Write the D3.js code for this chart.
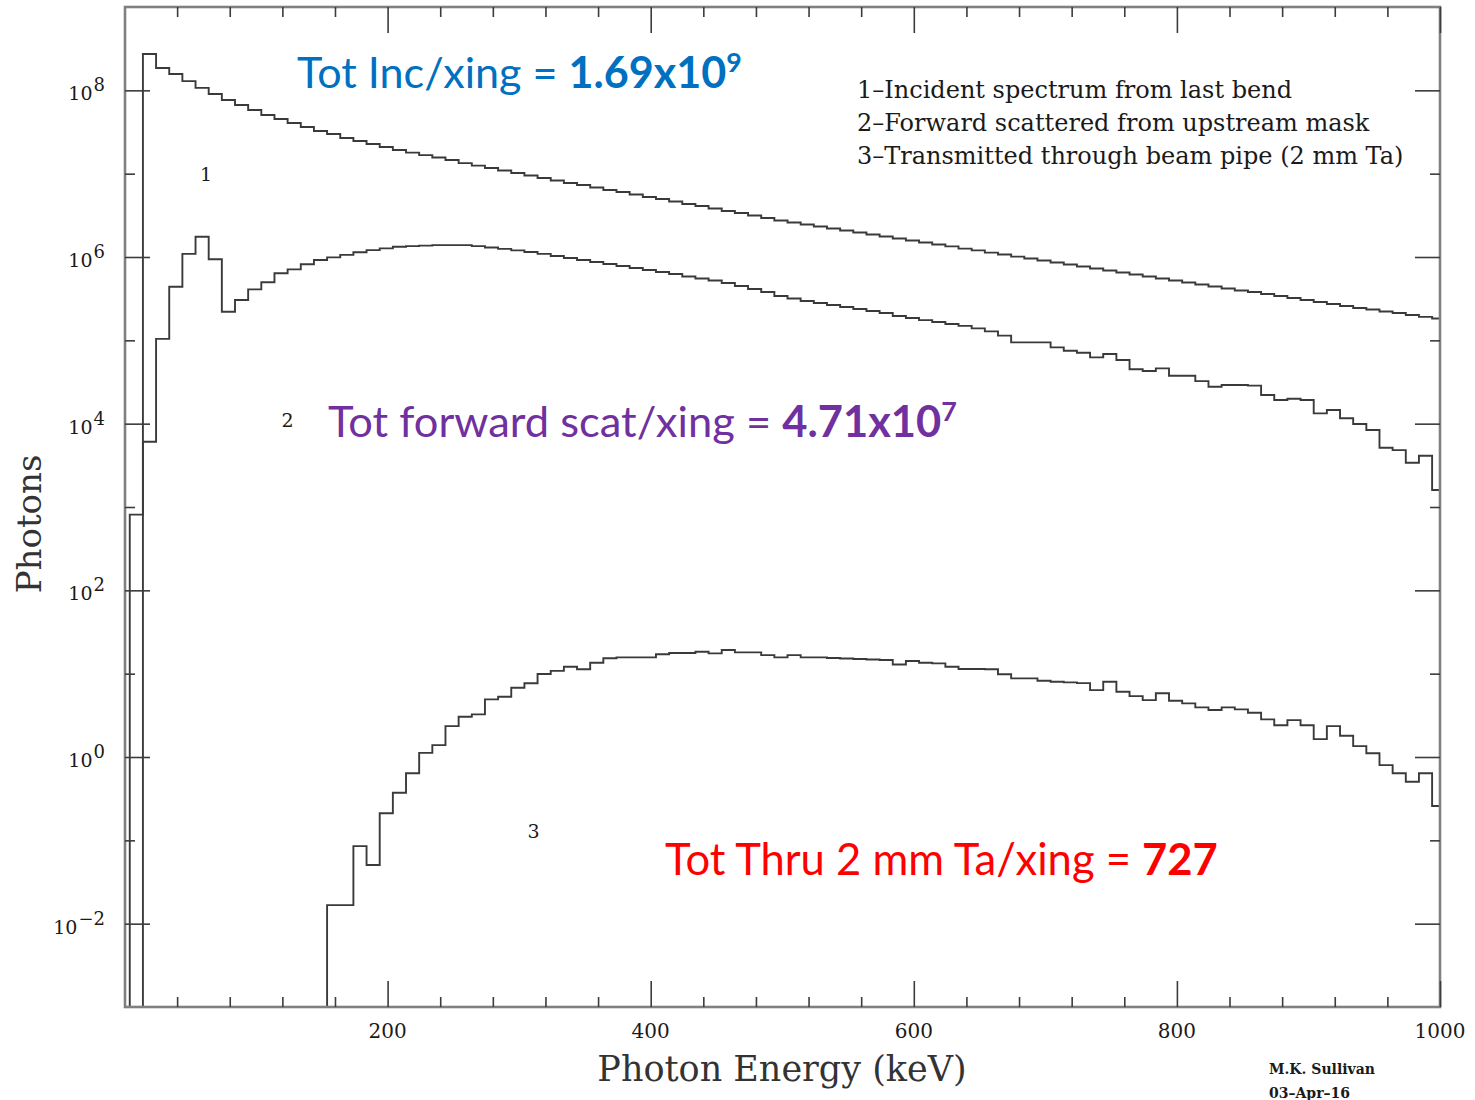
<!DOCTYPE html>
<html>
<head>
<meta charset="utf-8">
<script src="https://cdn.jsdelivr.net/npm/d3@7"></script>
<style>
  body { margin: 0; background: #fff; }
  svg { display: block; }
</style>
</head>
<body>
<svg id="chart" width="1475" height="1100"></svg>
<script>
// Photon spectra per crossing, 10 keV bins starting at 4 keV (last bin cut at 1000 keV)
const binStart = 4;
const binWidth = 10;

// 1 - incident spectrum from last bend
const incident = [
  0, 2.73e8, 1.85e8, 1.57e8, 1.29e8, 1.07e8, 9.04e7, 7.66e7, 6.67e7, 5.81e7,
  5.06e7, 4.53e7, 4.06e7, 3.63e7, 3.25e7, 2.99e7, 2.68e7, 2.47e7, 2.27e7, 2.09e7,
  1.92e7, 1.79e7, 1.67e7, 1.56e7, 1.46e7, 1.34e7, 1.25e7, 1.17e7, 1.09e7, 1.02e7,
  9.51e6, 8.87e6, 8.28e6, 7.73e6, 7.31e6, 6.82e6, 6.37e6, 6.03e6, 5.62e6, 5.25e6,
  4.97e6, 4.63e6, 4.33e6, 4.09e6, 3.82e6, 3.56e6, 3.37e6, 3.15e6, 2.94e6, 2.74e6,
  2.59e6, 2.45e6, 2.32e6, 2.20e6, 2.08e6, 1.97e6, 1.86e6, 1.76e6, 1.67e6, 1.58e6,
  1.49e6, 1.41e6, 1.34e6, 1.26e6, 1.20e6, 1.13e6, 1.07e6, 1.01e6, 9.59e5, 9.08e5,
  8.59e5, 8.13e5, 7.69e5, 7.28e5, 6.89e5, 6.52e5, 6.17e5, 5.83e5, 5.52e5, 5.22e5,
  4.94e5, 4.68e5, 4.43e5, 4.19e5, 3.96e5, 3.80e5, 3.60e5, 3.40e5, 3.22e5, 3.05e5,
  2.88e5, 2.73e5, 2.58e5, 2.44e5, 2.34e5, 2.22e5, 2.13e5, 2.01e5, 1.91e5, 1.83e5
];

// 2 - forward scattered from upstream mask
const forward = [
  8.09e2, 6.07e3, 1.04e5, 4.40e5, 1.09e6, 1.75e6, 9.38e5, 2.20e5, 3.05e5, 4.09e5,
  4.97e5, 6.37e5, 7.11e5, 8.17e5, 9.20e5, 9.91e5, 1.06e6, 1.14e6, 1.21e6, 1.27e6,
  1.33e6, 1.35e6, 1.37e6, 1.39e6, 1.39e6, 1.39e6, 1.35e6, 1.30e6, 1.25e6, 1.20e6,
  1.15e6, 1.09e6, 1.03e6, 9.73e5, 9.20e5, 8.71e5, 8.24e5, 7.80e5, 7.38e5, 6.98e5,
  6.61e5, 6.25e5, 5.83e5, 5.52e5, 5.22e5, 4.88e5, 4.49e5, 4.13e5, 3.80e5, 3.40e5,
  3.18e5, 2.96e5, 2.81e5, 2.65e5, 2.51e5, 2.38e5, 2.25e5, 2.13e5, 1.96e5, 1.85e5,
  1.75e5, 1.66e5, 1.57e5, 1.49e5, 1.39e5, 1.28e5, 1.14e5, 9.46e4, 9.46e4, 9.46e4,
  8.24e4, 7.50e4, 7.10e4, 6.25e4, 6.85e4, 5.81e4, 4.49e4, 4.28e4, 4.61e4, 3.76e4,
  3.76e4, 3.24e4, 2.77e4, 2.91e4, 2.91e4, 2.86e4, 2.21e4, 1.92e4, 1.99e4, 1.92e4,
  1.33e4, 1.46e4, 1.16e4, 9.89e3, 8.38e3, 5.14e3, 4.82e3, 3.40e3, 4.12e3, 1.60e3
];

// 3 - transmitted through beam pipe (2 mm Ta)
const transmitted = [
  0, 0, 0, 0, 0, 0, 0, 0, 0, 0,
  0, 0, 0, 0, 0, 1.67e-2, 1.67e-2, 8.53e-2, 5.05e-2, 0.211,
  0.372, 0.637, 1.12, 1.39, 2.35, 3.04, 3.25, 4.92, 5.28, 6.78,
  7.66, 9.91, 10.8, 12.1, 11.3, 13.5, 15.3, 15.7, 15.7, 15.7,
  17.1, 17.7, 17.7, 18.3, 17.5, 19.2, 18.0, 18.0, 16.7, 15.7,
  16.7, 15.7, 15.7, 15.4, 15.2, 15.0, 14.8, 14.6, 12.9, 14.2,
  13.5, 13.3, 12.1, 11.4, 11.4, 11.3, 9.82, 8.79, 8.79, 8.22,
  8.00, 7.87, 7.71, 6.35, 8.00, 6.07, 5.38, 4.82, 5.81, 4.73,
  4.40, 3.94, 3.66, 3.94, 3.73, 3.40, 2.83, 2.40, 2.77, 2.40,
  1.64, 2.35, 1.80, 1.35, 1.11, 0.80, 0.637, 0.505, 0.637, 0.258
];

const xMajorTicks = [200, 400, 600, 800, 1000];
const xMinorTicks = d3.range(40, 1000, 40).filter(v => v % 200 !== 0);
const yMajorExponents = [-2, 0, 2, 4, 6, 8];
const yMinorExponents = [-1, 1, 3, 5, 7];

const legendLines = [
  "1\u2013Incident spectrum from last bend",
  "2\u2013Forward scattered from upstream mask",
  "3\u2013Transmitted through beam pipe (2 mm Ta)"
];
// curve numbers, placed in data coordinates (keV, photons)
const curveTags = ["1", "2", "3"];
const curveTagAt = [[62, 8.2e6], [124, 9.1e3], [311, 0.107]];

const totals = [
  { pre: "Tot Inc/xing = ", num: "1.69x10", sup: "9", color: "#0070C0" },
  { pre: "Tot forward scat/xing = ", num: "4.71x10", sup: "7", color: "#7030A0" },
  { pre: "Tot Thru 2 mm Ta/xing = ", num: "727", sup: "", color: "#FF0000" }
];

const svg = d3.select("#chart");
const L = 125, R = 1440, T = 7, B = 1007;

const x = d3.scaleLinear().domain([0, 1000]).range([124.5, R]);
const y = d3.scaleLog().domain([1e-3, 1e9]).range([B, T]).clamp(true);

const serif = "'DejaVu Serif', 'Liberation Serif', serif";
const tickColor = "#3c3c3c";
const inkColor = "#1a1a1a";

// clip region for the histograms
svg.append("defs").append("clipPath").attr("id", "plotArea")
  .append("rect").attr("x", L).attr("y", T).attr("width", R - L).attr("height", B - T);

// step outline of one histogram
function histPath(vals) {
  const base = y.range()[0];
  const yy = v => (v > 0 ? y(v) : base);
  const pts = [[x(binStart), base]];
  vals.forEach((v, i) => {
    const x0 = x(binStart + i * binWidth);
    const x1 = x(binStart + (i + 1) * binWidth);
    pts.push([x0, yy(v)], [x1, yy(v)]);
  });
  pts.push([x(binStart + vals.length * binWidth), base]);
  return d3.line()(pts);
}

const curves = svg.append("g").attr("clip-path", "url(#plotArea)");
[incident, forward, transmitted].forEach(vals => {
  curves.append("path")
    .attr("d", histPath(vals))
    .attr("fill", "none")
    .attr("stroke", "#3a3a3a")
    .attr("stroke-width", 1.9);
});

// frame
svg.append("rect")
  .attr("x", L).attr("y", T).attr("width", R - L).attr("height", B - T)
  .attr("fill", "none").attr("stroke", "#808080").attr("stroke-width", 2.6);

// ticks on all four sides
function tickAxis(axis, tx, ty) {
  const g = svg.append("g").attr("transform", `translate(${tx},${ty})`).call(axis);
  g.select(".domain").remove();
  g.selectAll("line").attr("stroke", tickColor).attr("stroke-width", 1.6);
  g.selectAll("text").remove();
}
tickAxis(d3.axisTop(x).tickValues(xMajorTicks).tickSize(26), 0, B);
tickAxis(d3.axisTop(x).tickValues(xMinorTicks).tickSize(10), 0, B);
tickAxis(d3.axisBottom(x).tickValues(xMajorTicks).tickSize(26), 0, T);
tickAxis(d3.axisBottom(x).tickValues(xMinorTicks).tickSize(10), 0, T);
const yMajorVals = yMajorExponents.map(e => Math.pow(10, e));
const yMinorVals = yMinorExponents.map(e => Math.pow(10, e));
tickAxis(d3.axisRight(y).tickValues(yMajorVals).tickSize(25), L, 0);
tickAxis(d3.axisRight(y).tickValues(yMinorVals).tickSize(10), L, 0);
tickAxis(d3.axisLeft(y).tickValues(yMajorVals).tickSize(25), R, 0);
tickAxis(d3.axisLeft(y).tickValues(yMinorVals).tickSize(10), R, 0);

// x tick labels
svg.append("g").selectAll("text").data(xMajorTicks).join("text")
  .attr("x", d => x(d)).attr("y", 1038)
  .attr("text-anchor", "middle")
  .attr("font-family", serif).attr("font-size", 20).attr("fill", inkColor)
  .text(d => d);

// y tick labels as powers of ten
const yLab = svg.append("g").selectAll("text").data(yMajorExponents).join("text")
  .attr("x", 105).attr("y", d => y(Math.pow(10, d)) + 10)
  .attr("text-anchor", "end")
  .attr("font-family", serif).attr("font-size", 19).attr("fill", inkColor);
yLab.append("tspan").text("10");
yLab.append("tspan").attr("dx", 1).attr("dy", -9).attr("font-size", 18)
  .text(d => (d < 0 ? "\u2212" + Math.abs(d) : String(d)));

// axis titles
svg.append("text")
  .attr("x", 782).attr("y", 1081).attr("text-anchor", "middle")
  .attr("font-family", serif).attr("font-size", 35).attr("fill", "#333")
  .text("Photon Energy (keV)");
svg.append("text")
  .attr("transform", "translate(41,524) rotate(-90)").attr("text-anchor", "middle")
  .attr("font-family", serif).attr("font-size", 34).attr("fill", "#333")
  .text("Photons");

// legend
svg.append("g").selectAll("text").data(legendLines).join("text")
  .attr("x", 857).attr("y", (d, i) => 98 + i * 33)
  .attr("font-family", serif).attr("font-size", 24).attr("fill", inkColor)
  .text(d => d);

// curve numbers
svg.append("g").selectAll("text").data(curveTags).join("text")
  .attr("x", (d, i) => x(curveTagAt[i][0])).attr("y", (d, i) => y(curveTagAt[i][1]))
  .attr("text-anchor", "middle")
  .attr("font-family", serif).attr("font-size", 19).attr("fill", inkColor)
  .text(d => d);

// signature
svg.append("text").attr("x", 1269).attr("y", 1074)
  .attr("font-family", serif).attr("font-size", 14).attr("font-weight", "bold").attr("fill", inkColor)
  .text("M.K. Sullivan");
svg.append("text").attr("x", 1269).attr("y", 1098)
  .attr("font-family", serif).attr("font-size", 14).attr("font-weight", "bold").attr("fill", inkColor)
  .text("03\u2013Apr\u201316");

// totals per crossing, sized to their spans
const totalPos = [[297, 88, 445], [328, 437, 629], [665, 875, 553]];
totals.forEach((t, i) => {
  const [tx, ty, w] = totalPos[i];
  const txt = svg.append("text")
    .attr("x", tx).attr("y", ty)
    .attr("font-family", "Lato, 'Open Sans', sans-serif")
    .attr("font-size", 40).attr("fill", t.color);
  txt.append("tspan").text(t.pre);
  txt.append("tspan").attr("font-weight", "bold").text(t.num);
  if (t.sup) {
    txt.append("tspan").attr("font-weight", "bold").attr("font-size", "0.62em")
      .attr("dy", "-0.6em").text(t.sup);
  }
  const len = txt.node().getComputedTextLength();
  txt.attr("font-size", 40 * w / len);
});
</script>
</body>
</html>
